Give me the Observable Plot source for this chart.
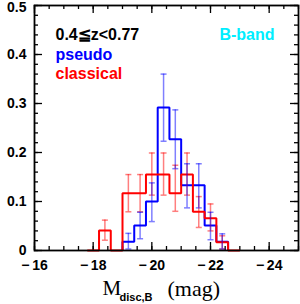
<!DOCTYPE html>
<html>
<head>
<meta charset="utf-8">
<script src="https://cdn.jsdelivr.net/npm/d3@7"></script>
<script src="https://cdn.jsdelivr.net/npm/@observablehq/plot@0.6"></script>
<style>
  html, body { margin: 0; padding: 0; background: white; }
  svg { display: block; }
</style>
</head>
<body>
<script>
// ---- data ----
const binEdges = [-17.8, -18.2, -18.6, -19.0, -19.4, -19.8, -20.2, -20.6, -21.0, -21.4, -21.8, -22.2, -22.6, -23.0];
const binCenters = [-18.0, -18.4, -18.8, -19.2, -19.6, -20.0, -20.4, -20.8, -21.2, -21.6, -22.0, -22.4, -22.8];

const classical   = [0, 0.041, 0, 0.117, 0.117, 0.155, 0.155, 0.117, 0.155, 0.079, 0.066, 0.017, 0];
const classicalLo = [null, 0.021, null, 0.079, 0.079, 0.113, 0.113, 0.080, 0.113, 0.047, 0.040, 0.003, null];
const classicalHi = [null, 0.062, null, 0.155, 0.155, 0.199, 0.199, 0.174, 0.199, 0.110, 0.095, 0.030, null];

const pseudo   = [null, null, null, 0.018, 0.051, 0.100, 0.292, 0.227, 0.133, 0.133, 0.051, 0.018, null];
const pseudoLo = [null, null, null, 0.003, 0.024, 0.059, 0.223, 0.167, 0.087, 0.087, 0.022, 0.003, null];
const pseudoHi = [null, null, null, 0.035, 0.078, 0.138, 0.360, 0.287, 0.177, 0.177, 0.078, 0.034, null];

const xMajorTicks = [-16, -18, -20, -22, -24];
const xTickLabels = ["−\u200916", "−\u200918", "−\u200920", "−\u200922", "−\u200924"];
const yMajorTicks = [0, 0.1, 0.2, 0.3, 0.4, 0.5];
const yTickLabels = ["0", "0.1", "0.2", "0.3", "0.4", "0.5"];
const xMinorTicks = d3.range(-16, -25.001, -0.5);
const yMinorTicks = d3.range(0, 0.5001, 0.02);

const zLabel = "0.4≦z<0.77";
const pseudoLabel = "pseudo";
const classicalLabel = "classical";
const bandLabel = "B-band";

// ---- build step outlines from the bins ----
function stepPoints(values) {
  const pts = [];
  values.forEach((v, i) => {
    if (v == null) return;
    if (pts.length === 0) pts.push({x: binEdges[i], y: 0});
    pts.push({x: binEdges[i], y: v});
    pts.push({x: binEdges[i + 1], y: v});
    if (i === values.length - 1 || values[i + 1] == null) pts.push({x: binEdges[i + 1], y: 0});
  });
  return pts;
}
function errRows(lo, hi) {
  return binCenters.map((c, i) => ({x: c, lo: lo[i], hi: hi[i]})).filter(d => d.lo != null);
}

const W = 300, H = 304;
const mL = 34, mR = 2, mT = 5, mB = 54;
const fw = W - mL - mR, fh = H - mT - mB;
const majorLen = 8, minorLen = 4;

const capSymbol = {draw(ctx) { ctx.moveTo(-3, 0); ctx.lineTo(3, 0); }};

const RED = "#ff0000", BLUE = "#0000ff", CYAN = "#00eeff";

function errMarks(rows, color) {
  return [
    Plot.ruleX(rows, {x: "x", y1: "lo", y2: "hi", stroke: color, strokeOpacity: 0.5, strokeWidth: 1.5}),
    Plot.dot(rows, {x: "x", y: "lo", symbol: capSymbol, fill: "none", stroke: color, strokeOpacity: 0.5, strokeWidth: 1.5}),
    Plot.dot(rows, {x: "x", y: "hi", symbol: capSymbol, fill: "none", stroke: color, strokeOpacity: 0.5, strokeWidth: 1.5})
  ];
}

const tickStyle = {stroke: "black", strokeWidth: 1.3};
const yFmt = d => yTickLabels[yMajorTicks.findIndex(t => Math.abs(t - d) < 1e-9)];

const chart = Plot.plot({
  width: W, height: H,
  marginLeft: mL, marginRight: mR, marginTop: mT, marginBottom: mB,
  style: {fontFamily: "Liberation Sans", fontSize: "14px", fontWeight: "bold", background: "white", color: "black"},
  x: {domain: [-16, -25]},
  y: {domain: [0, 0.5]},
  marks: [
    // ticks (inward, all four sides)
    Plot.tickX(xMinorTicks, {x: d => d, insetTop: fh - minorLen, ...tickStyle}),
    Plot.tickX(xMajorTicks, {x: d => d, insetTop: fh - majorLen, ...tickStyle}),
    Plot.tickX(xMinorTicks, {x: d => d, insetBottom: fh - minorLen, ...tickStyle}),
    Plot.tickX(xMajorTicks, {x: d => d, insetBottom: fh - majorLen, ...tickStyle}),
    Plot.tickY(yMinorTicks, {y: d => d, insetRight: fw - minorLen, ...tickStyle}),
    Plot.tickY(yMajorTicks, {y: d => d, insetRight: fw - majorLen, ...tickStyle}),
    Plot.tickY(yMinorTicks, {y: d => d, insetLeft: fw - minorLen, ...tickStyle}),
    Plot.tickY(yMajorTicks, {y: d => d, insetLeft: fw - majorLen, ...tickStyle}),
    Plot.axisX({ticks: xMajorTicks, tickSize: 0, tickPadding: 10, label: null,
      tickFormat: d => xTickLabels[xMajorTicks.indexOf(d)], fontSize: 14, fontWeight: "bold"}),
    Plot.axisY({ticks: yMajorTicks.slice(0, -1), tickSize: 0, tickPadding: 8, label: null,
      tickFormat: yFmt, fontSize: 14, fontWeight: "bold"}),
    Plot.axisY({ticks: yMajorTicks.slice(-1), tickSize: 0, tickPadding: 8, label: null, dy: 2.5,
      tickFormat: yFmt, fontSize: 14, fontWeight: "bold"}),
    // histograms
    Plot.line(stepPoints(pseudo), {x: "x", y: "y", stroke: BLUE, strokeWidth: 2, strokeLinejoin: "miter", strokeLinecap: "butt"}),
    Plot.line(stepPoints(classical), {x: "x", y: "y", stroke: RED, strokeWidth: 2, strokeLinejoin: "miter", strokeLinecap: "butt"}),
    ...errMarks(errRows(classicalLo, classicalHi), RED),
    ...errMarks(errRows(pseudoLo, pseudoHi), BLUE),
    Plot.frame({stroke: "black", strokeWidth: 1.8}),
    // annotations
    Plot.text([zLabel], {text: d => d, frameAnchor: "top-left", dx: 21, dy: 23, lineAnchor: "top", textAnchor: "start", fill: "black", fontSize: 16, fontWeight: "bold"}),
    Plot.text([pseudoLabel], {text: d => d, frameAnchor: "top-left", dx: 21, dy: 43, lineAnchor: "top", textAnchor: "start", fill: BLUE, fontSize: 16, fontWeight: "bold"}),
    Plot.text([classicalLabel], {text: d => d, frameAnchor: "top-left", dx: 21, dy: 62, lineAnchor: "top", textAnchor: "start", fill: RED, fontSize: 16, fontWeight: "bold"}),
    Plot.text([bandLabel], {text: d => d, frameAnchor: "top-right", dx: -24, dy: 23, lineAnchor: "top", textAnchor: "end", fill: CYAN, fontSize: 16, fontWeight: "bold"}),
    // axis title M_disc,B (mag)
    Plot.text(["M"], {text: d => d, frameAnchor: "bottom-left", dx: 68, dy: 30, lineAnchor: "top", textAnchor: "start", fontFamily: "Liberation Serif", fontSize: 21, fontWeight: "normal", fill: "black"}),
    Plot.text(["disc,B"], {text: d => d, frameAnchor: "bottom-left", dx: 85, dy: 43, lineAnchor: "top", textAnchor: "start", fontFamily: "Liberation Sans", fontSize: 11, fontWeight: "bold", fill: "black"}),
    Plot.text(["(mag)"], {text: d => d, frameAnchor: "bottom-left", dx: 133, dy: 30, lineAnchor: "top", textAnchor: "start", fontFamily: "Liberation Serif", fontSize: 22, fontWeight: "normal", fill: "black", letterSpacing: 1.5})
  ]
});
document.body.appendChild(chart);
</script>
</body>
</html>
